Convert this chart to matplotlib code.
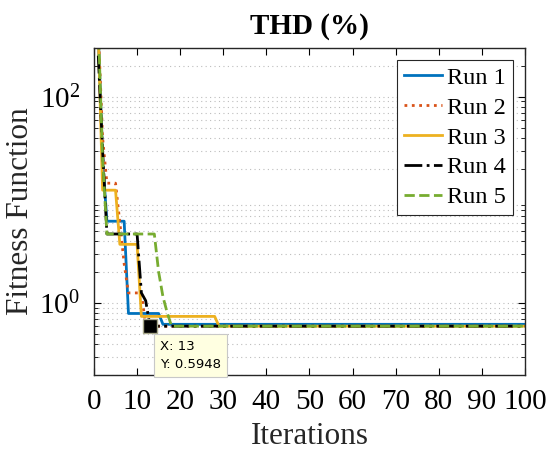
import matplotlib
matplotlib.use("Agg")
import matplotlib.pyplot as plt
from matplotlib.ticker import LogLocator, NullFormatter

# ---------------------------------------------------------------------------
# Datos: (iteración, mejor fitness) en los puntos donde cambia cada corrida
# ---------------------------------------------------------------------------
run1_x = [1, 2, 3, 7, 8, 15, 16, 100]
run1_y = [400, 25, 6.2, 6.2, 0.79, 0.79, 0.62, 0.62]

run2_x = [1, 2, 3, 5, 6, 7, 8, 11, 12, 100]
run2_y = [450, 40, 14.5, 14.5, 6.0, 2.4, 1.25, 1.25, 0.5948, 0.5948]

run3_x = [1, 2, 5, 6, 10, 11, 28, 29, 100]
run3_y = [400, 12.4, 12.4, 3.7, 3.7, 0.74, 0.74, 0.5948, 0.5948]

run4_x = [1, 2, 3, 10, 11, 12, 13, 100]
run4_y = [250, 30, 4.66, 4.66, 1.25, 1.05, 0.5948, 0.5948]

run5_x = [1, 2, 3, 14, 15, 16, 17, 18, 100]
run5_y = [500, 25, 4.66, 4.66, 2.0, 1.15, 0.8, 0.5948, 0.5948]

tip_x, tip_y = 13, 0.5948

etiquetas = ["Run 1", "Run 2", "Run 3", "Run 4", "Run 5"]
colores = ["#0072BD", "#D95319", "#EDB120", "#000000", "#77AC30"]
estilos = ["-", ":", "-", "-.", "--"]

plt.rcParams["font.family"] = ["Liberation Serif", "DejaVu Serif"]
plt.rcParams["mathtext.fontset"] = "custom"
plt.rcParams["mathtext.rm"] = "Liberation Serif"
plt.rcParams["mathtext.it"] = "Liberation Serif:italic"

fig = plt.figure(figsize=(5.48, 4.5), dpi=100)
ax = fig.add_axes([0.1715, 0.1667, 0.7865, 0.7277])

series = [(run1_x, run1_y), (run2_x, run2_y), (run3_x, run3_y),
          (run4_x, run4_y), (run5_x, run5_y)]
for (xs, ys), lab, c, ls in zip(series, etiquetas, colores, estilos):
    ax.plot(xs, ys, color=c, linestyle=ls, linewidth=2, label=lab)

ax.set_yscale("log")
ax.set_xlim(0, 100)
ax.set_ylim(0.2, 300)
ax.set_xticks(range(0, 101, 10))
ax.set_yticks([1, 100])
ax.yaxis.set_minor_locator(LogLocator(base=10, subs=range(2, 10), numticks=20))
ax.yaxis.set_minor_formatter(NullFormatter())

ax.tick_params(which="both", direction="in", top=True, right=True)
ax.tick_params(which="major", length=5, labelsize=21, pad=10)
ax.tick_params(which="minor", length=3)
ax.yaxis.grid(True, which="both", linestyle=(0, (1, 3)), color="#bdbdbd",
              linewidth=0.8)
for s in ax.spines.values():
    s.set_linewidth(1.0)
    s.set_color("#262626")

ax.set_title("THD (%)", fontsize=21, fontweight="bold", pad=10)
ax.set_xlabel("Iterations", fontsize=22.5, labelpad=5, color="#262626")
ax.set_ylabel("Fitness Function", fontsize=22.5, labelpad=3, color="#262626")

leg = ax.legend(loc="upper right", fontsize=17.5, handlelength=1.55,
                handletextpad=0.2, borderpad=0.3, labelspacing=0.32,
                fancybox=False, framealpha=1, edgecolor="#262626",
                borderaxespad=0.5)
leg.get_frame().set_linewidth(0.8)

# data tip
ax.plot([tip_x], [tip_y], marker="s", markersize=10, color="black",
        markeredgecolor="#a8a88a", markeredgewidth=1.0, zorder=5)
ax.annotate(f"X: {tip_x}\nY: {tip_y}", xy=(tip_x, tip_y),
            xytext=(7, -10), textcoords="offset points", ha="left", va="top",
            fontsize=9.5, family="DejaVu Sans", linespacing=1.5,
            bbox=dict(boxstyle="square,pad=0.45", fc="#FFFFE1", ec="#c8c8c8",
                      lw=0.8),
            annotation_clip=False, zorder=6)

fig.savefig("out.png", dpi=100)
